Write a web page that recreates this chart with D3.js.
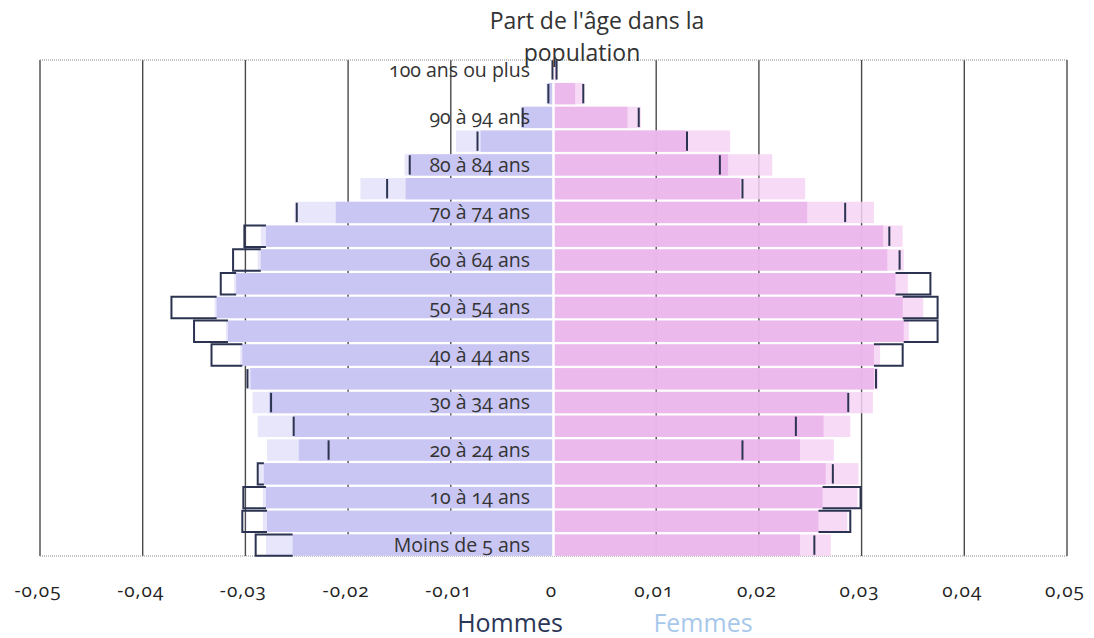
<!DOCTYPE html>
<html>
<head>
<meta charset="utf-8">
<script src="https://cdn.jsdelivr.net/npm/d3@7"></script>
<style>
  body { margin: 0; background: #fff; }
  svg text { font-family: "Open Sans", "Lato", sans-serif; font-variant-numeric: oldstyle-nums; }
</style>
</head>
<body>
<svg id="chart" width="1094" height="638"></svg>
<script>
// age groups, bottom to top
var ageGroups = ["Moins de 5 ans", "5 à 9 ans", "10 à 14 ans", "15 à 19 ans", "20 à 24 ans",
	"25 à 29 ans", "30 à 34 ans", "35 à 39 ans", "40 à 44 ans", "45 à 49 ans", "50 à 54 ans",
	"55 à 59 ans", "60 à 64 ans", "65 à 69 ans", "70 à 74 ans", "75 à 79 ans", "80 à 84 ans",
	"85 à 89 ans", "90 à 94 ans", "95 à 99 ans", "100 ans ou plus"];

// shares of each age group (men drawn to the left)
var menMain   = [0.0254, 0.0279, 0.0280, 0.0282, 0.0248, 0.0253, 0.0277, 0.0295, 0.0303, 0.0317, 0.0328,
	0.0309, 0.0285, 0.0280, 0.0212, 0.0144, 0.0140, 0.0071, 0.0030, 0.0005, 0.0001];
var menPale   = [0.0280, 0.0283, 0.0283, 0.0287, 0.0279, 0.0288, 0.0293, 0.0297, 0.0305, 0.0319, 0.0330,
	0.0311, 0.0288, 0.0285, 0.0252, 0.0188, 0.0145, 0.0095, 0.0032, 0.0007, 0.0001];
var menRef    = [0.0290, 0.0303, 0.0302, 0.0288, 0.0219, 0.0253, 0.0275, 0.0298, 0.0333, 0.0350, 0.0372,
	0.0324, 0.0312, 0.0301, 0.0250, 0.0162, 0.0140, 0.0074, 0.0030, 0.0005, 0.0001];

var womenMain = [0.0240, 0.0258, 0.0262, 0.0265, 0.0240, 0.0263, 0.0286, 0.0312, 0.0312, 0.0341, 0.0340,
	0.0333, 0.0325, 0.0321, 0.0247, 0.0182, 0.0170, 0.0129, 0.0072, 0.0021, 0.0002];
var womenPale = [0.0270, 0.0286, 0.0296, 0.0297, 0.0273, 0.0289, 0.0311, 0.0316, 0.0318, 0.0346, 0.0360,
	0.0345, 0.0341, 0.0340, 0.0312, 0.0245, 0.0213, 0.0172, 0.0085, 0.0030, 0.0003];
var womenRef  = [0.0254, 0.0289, 0.0299, 0.0272, 0.0184, 0.0236, 0.0287, 0.0314, 0.0340, 0.0374, 0.0374,
	0.0367, 0.0337, 0.0327, 0.0284, 0.0184, 0.0162, 0.0130, 0.0083, 0.0029, 0.0003];

var xTicks = [-0.05, -0.04, -0.03, -0.02, -0.01, 0, 0.01, 0.02, 0.03, 0.04, 0.05];

var svg = d3.select("#chart");
var plotTop = 58, plotBottom = 557;

var x = d3.scaleLinear().domain([-0.05, 0.05]).range([40, 1067]);
var y = d3.scaleBand().domain(ageGroups).range([plotBottom, plotTop]).paddingInner(0.1).paddingOuter(0.05);

var fmt = function (d) { return d == 0 ? "0" : d3.format(".2f")(d).replace(".", ",").replace("−", "-"); };

// grid lines (under the bars)
svg.append("g").selectAll("line").data(xTicks.filter(function (d) { return d != 0; }))
	.enter().append("line")
	.attr("x1", function (d) { return x(d); }).attr("x2", function (d) { return x(d); })
	.attr("y1", plotTop + 2).attr("y2", plotBottom - 1)
	.attr("stroke", "#4a4a4a").attr("stroke-width", 1.4);
svg.append("line").attr("x1", x(0)).attr("x2", x(0)).attr("y1", plotTop + 2).attr("y2", plotBottom - 1)
	.attr("stroke", "#ddd").attr("stroke-width", 1);

// dotted frame top and bottom
[plotTop + 2, plotBottom - 1].forEach(function (yy) {
	svg.append("line").attr("x1", x(-0.05)).attr("x2", x(0.05)).attr("y1", yy).attr("y2", yy)
		.attr("stroke", "#8a8a8a").attr("stroke-width", 1.2).attr("stroke-dasharray", "1,1");
});

function drawBars(values, side, fill, opacity) {
	svg.append("g").selectAll("rect").data(values).enter().append("rect")
		.attr("x", function (d) { return side < 0 ? x(-d) : x(0); })
		.attr("width", function (d) { return side < 0 ? x(0) - x(-d) : x(d) - x(0); })
		.attr("y", function (d, i) { return y(ageGroups[i]); })
		.attr("height", y.bandwidth())
		.attr("fill", fill).attr("fill-opacity", opacity);
}

drawBars(menPale, -1, "#e8e6fb", 1);
drawBars(menMain, -1, "#c9c6f3", 1);
drawBars(womenPale, 1, "#f6d3f5", 0.85);
drawBars(womenMain, 1, "#eab3ea", 0.85);

// white gap at zero
svg.append("line").attr("x1", x(0)).attr("x2", x(0)).attr("y1", plotTop + 2).attr("y2", plotBottom - 1)
	.attr("stroke", "#fff").attr("stroke-width", 2.5);

// reference series: tick at the value, bracket back to the main bar where it reaches past the pale bar
function refPath(v, main, pale, side, i) {
	var y0 = y(ageGroups[i]), y1 = y0 + y.bandwidth();
	var xv = x(side * v), xo = x(side * main);
	if (v > pale - 0.0001 && v > main + 0.0003)
		return "M" + xo + "," + y0 + "H" + xv + "V" + y1 + "H" + xo;
	return "M" + xv + "," + (y0 + 1) + "V" + (y1 - 1);
}

function drawRef(values, mains, pales, side) {
	svg.append("g").selectAll("path").data(values).enter().append("path")
		.attr("d", function (d, i) { return refPath(d, mains[i], pales[i], side, i); })
		.attr("fill", "none").attr("stroke", "#2b3350").attr("stroke-width", 2);
}

drawRef(menRef, menMain, menPale, -1);
drawRef(womenRef, womenMain, womenPale, 1);

// age labels, every other group
svg.append("g").selectAll("text").data(ageGroups.filter(function (d, i) { return i % 2 == 0; }))
	.enter().append("text")
	.attr("x", 530).attr("y", function (d) { return y(d) + y.bandwidth() / 2; })
	.attr("dy", "0.35em").attr("text-anchor", "end")
	.attr("font-size", 19.5).attr("fill", "#333")
	.text(function (d) { return d; });

// x tick labels
svg.append("g").selectAll("text").data(xTicks).enter().append("text")
	.attr("x", function (d) { return x(d) - 2; }).attr("y", 597)
	.attr("text-anchor", "middle").attr("font-size", 19).attr("letter-spacing", 1)
	.attr("fill", "#222")
	.text(fmt);

// title
svg.append("text").attr("x", 597).attr("y", 29).attr("text-anchor", "middle")
	.attr("font-size", 23).attr("fill", "#333").text("Part de l'âge dans la");
svg.append("text").attr("x", 582).attr("y", 61).attr("text-anchor", "middle")
	.attr("font-size", 23).attr("fill", "#333").text("population");

// legend
svg.append("text").attr("x", 510).attr("y", 632).attr("text-anchor", "middle")
	.attr("font-size", 25).attr("fill", "#2c3656").text("Hommes");
svg.append("text").attr("x", 703).attr("y", 632).attr("text-anchor", "middle")
	.attr("font-size", 25).attr("fill", "#a8c8eb").text("Femmes");
</script>
</body>
</html>
